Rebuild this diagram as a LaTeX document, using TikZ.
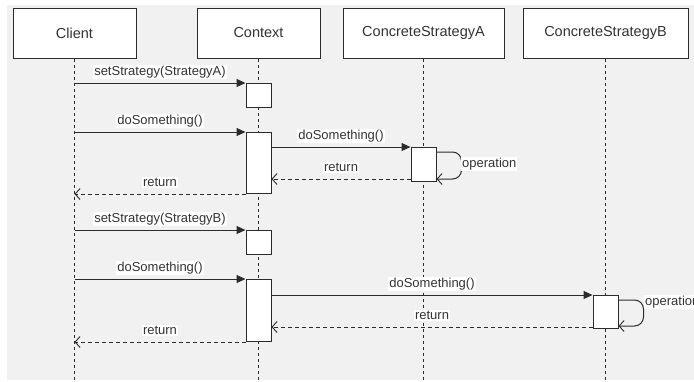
\documentclass[tikz,border=0pt]{standalone}
\usepackage{fontspec}
\setmainfont{Liberation Sans}
\usetikzlibrary{arrows.meta}
\definecolor{canvas}{HTML}{F1F1F1}
\definecolor{ink}{HTML}{2B2B2B}
\definecolor{txt}{HTML}{333333}
\tikzset{
  participant/.style={draw=ink, line width=1pt, fill=white, minimum height=50pt,
    text=txt, font=\fontsize{14.5}{17}\selectfont, inner sep=0pt},
  lifeline/.style={ink, line width=1pt, dash pattern=on 3pt off 3pt},
  activation/.style={draw=ink, line width=1pt, fill=white, minimum width=25pt,
    inner sep=0pt, anchor=north},
  call/.style={ink, line width=1pt, -{Triangle[length=9pt,width=8pt]}},
  reply/.style={ink, line width=1pt, dash pattern=on 4pt off 3pt,
    -{Straight Barb[length=5pt,width=11pt,line width=0.9pt]}},
  selfcall/.style={ink, line width=1pt, rounded corners=9pt,
    -{Straight Barb[length=5pt,width=11pt,line width=0.9pt]}},
  msg/.style={fill=white, text=txt, inner sep=1pt, font=\fontsize{13}{15}\selectfont},
  over/.style={msg, midway, anchor=base, yshift=7.5pt},
}
\begin{document}
\begin{tikzpicture}[x=1pt, y=-1pt]
  \useasboundingbox (0,0) rectangle (694,381);
  \clip (0,0) rectangle (694,381);
  \fill[canvas] (7,5) rectangle (694,380);

  % participants
  \node[participant, minimum width=123pt] (client)  at (74.5,33)  {Client};
  \node[participant, minimum width=123pt] (context) at (258.5,33) {Context};
  \node[participant, minimum width=161pt] (csa)     at (423.5,33) {ConcreteStrategyA};
  \node[participant, minimum width=165pt] (csb)     at (605.5,33) {ConcreteStrategyB};

  % lifeline ends
  \coordinate (clientEnd)  at (client.center |- 0,380);
  \coordinate (contextEnd) at (context.center |- 0,380);
  \coordinate (csaEnd)     at (csa.center |- 0,380);
  \coordinate (csbEnd)     at (csb.center |- 0,380);
  \draw[lifeline] (client.south)  -- (clientEnd);
  \draw[lifeline] (context.south) -- (contextEnd);
  \draw[lifeline] (csa.south)     -- (csaEnd);
  \draw[lifeline] (csb.south)     -- (csbEnd);

  % activations
  \node[activation, minimum height=24pt] (act1) at (258.5,83)  {};
  \node[activation, minimum height=61pt] (act2) at (258.5,132) {};
  \node[activation, minimum height=34pt] (actA) at (423.5,147) {};
  \node[activation, minimum height=24pt] (act3) at (258.5,230) {};
  \node[activation, minimum height=62pt] (act4) at (258.5,279) {};
  \node[activation, minimum height=33pt] (actB) at (605.5,295) {};

  % first round: strategy A
  \draw[call] (act1.north west -| clientEnd) -- (act1.north west)
    node[over] (l1) {setStrategy(StrategyA)};
  \draw[call] (act2.north west -| clientEnd) -- (act2.north west)
    node[over] (l2) {doSomething()};
  \draw[call] (actA.north west -| act2.east) -- (actA.north west)
    node[over] (l3) {doSomething()};
  \coordinate (loopAout) at ([yshift=-5pt]actA.north east);
  \coordinate (loopAin)  at ([yshift=3pt]actA.south east);
  \draw[selfcall] (loopAout) -- ++(25,0) |- (loopAin);
  \node[msg, anchor=west] (opA) at (461,164) {operation};
  \coordinate (retA) at ([yshift=3pt]actA.south west);
  \draw[reply] (retA) -- (retA -| act2.east)
    node[over] (l4) {return};
  \draw[reply] (act2.south west) -- (act2.south west -| clientEnd)
    node[over] (l5) {return};

  % second round: strategy B
  \draw[call] (act3.north west -| clientEnd) -- (act3.north west)
    node[over] (l6) {setStrategy(StrategyB)};
  \draw[call] (act4.north west -| clientEnd) -- (act4.north west)
    node[over] (l7) {doSomething()};
  \draw[call] (actB.north west -| act4.east) -- (actB.north west)
    node[over] (l8) {doSomething()};
  \coordinate (loopBout) at ([yshift=-5pt]actB.north east);
  \coordinate (loopBin)  at ([yshift=3pt]actB.south east);
  \draw[selfcall] (loopBout) -- ++(25,0) |- (loopBin);
  \node[msg, anchor=west] (opB) at (644,302) {operation};
  \coordinate (retB) at ([yshift=2pt]actB.south west);
  \draw[reply] (retB) -- (retB -| act4.east)
    node[over] (l9) {return};
  \draw[reply] (act4.south west) -- (act4.south west -| clientEnd)
    node[over] (l10) {return};
\end{tikzpicture}
\end{document}
